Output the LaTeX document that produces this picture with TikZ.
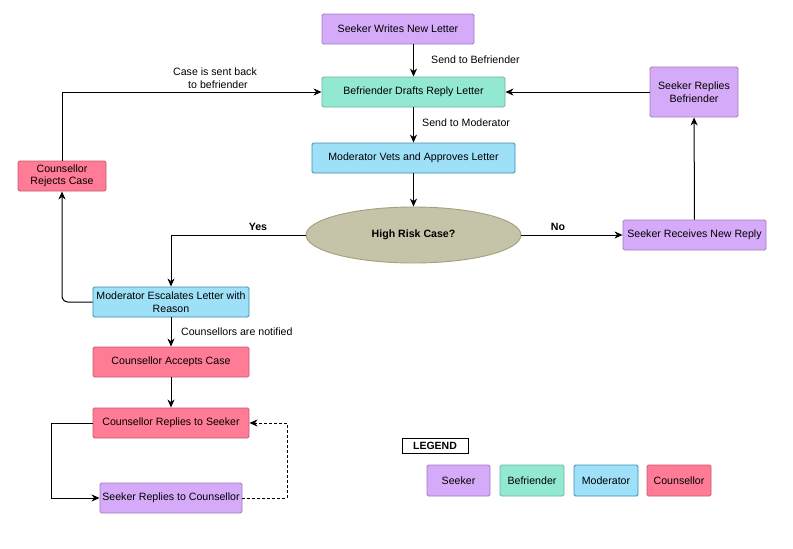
\documentclass[tikz,border=0pt]{standalone}
\usepackage{fontspec}
\setmainfont{Liberation Sans}
\usetikzlibrary{arrows.meta,shapes.geometric}

\definecolor{seekerfill}{HTML}{D5AAF9}
\definecolor{seekerline}{HTML}{A27BC0}
\definecolor{befrienderfill}{HTML}{92E8D0}
\definecolor{befrienderline}{HTML}{6AB5A2}
\definecolor{moderatorfill}{HTML}{9DE0F8}
\definecolor{moderatorline}{HTML}{3C8FAF}
\definecolor{counsellorfill}{HTML}{FF7B96}
\definecolor{counsellorline}{HTML}{C95A70}
\definecolor{riskfill}{HTML}{C5C3A8}
\definecolor{riskline}{HTML}{A3A07F}

\tikzset{
  box/.style={draw, rounded corners=1.5pt, line width=0.9pt, minimum height=30pt,
    align=center, inner sep=2pt},
  seeker/.style={box, fill=seekerfill, draw=seekerline},
  befriender/.style={box, fill=befrienderfill, draw=befrienderline},
  moderator/.style={box, fill=moderatorfill, draw=moderatorline},
  counsellor/.style={box, fill=counsellorfill, draw=counsellorline},
  flow/.style={line width=1pt, -{Stealth[length=8pt,width=7pt,inset=2.5pt]}},
  tag/.style={inner sep=1pt, align=center}
}

\begin{document}
\begin{tikzpicture}[x=1pt, y=-1pt, font=\fontsize{10.6}{12.5}\selectfont]
    \useasboundingbox[fill=white] (0,0) rectangle (793,549);
    % main column
    \node[seeker, minimum width=152pt] (writes) at (398,29) {Seeker Writes New Letter};
    \node[befriender, minimum width=183pt] (drafts) at (413.5,92) {Befriender Drafts Reply Letter};
    \node[moderator, minimum width=203pt] (vets) at (413.5,158) {Moderator Vets and Approves Letter};
    \node[ellipse, draw=riskline, fill=riskfill, line width=0.9pt, minimum width=215pt,
      minimum height=56pt, font=\fontsize{10.6}{12.5}\selectfont\bfseries] (risk) at (413.5,235) {High Risk Case?};
    % seeker side
    \node[seeker, minimum width=143pt] (receives) at (694.5,235) {Seeker Receives New Reply};
    \node[seeker, minimum width=88pt, minimum height=50pt] (repliesbef) at (694,92) {Seeker Replies\\Befriender};
    % escalation side
    \node[counsellor, minimum width=88pt] (rejects) at (62,176) {Counsellor\\Rejects Case};
    \node[moderator, minimum width=156pt] (escalates) at (171,302) {Moderator Escalates Letter with\\Reason};
    \node[counsellor, minimum width=156pt] (accepts) at (171,362) {Counsellor Accepts Case};
    \node[counsellor, minimum width=156pt] (repliesseek) at (171,423) {Counsellor Replies to Seeker};
    \node[seeker, minimum width=142pt] (repliescoun) at (171,498) {Seeker Replies to Counsellor};

    \draw[flow] (writes.south -| drafts) -- (drafts.north);
    \node[tag, anchor=west] (lbefr) at (430,60) {Send to Befriender};
    \draw[flow] (drafts) -- (vets);
    \node[tag, anchor=west] (lmod) at (421,123) {Send to Moderator};
    \draw[flow] (vets) -- (risk);
    \draw[flow] (risk) -- (receives);
    \node[tag, font=\fontsize{10.6}{12.5}\selectfont\bfseries] (lno) at (558,227) {No};
    \draw[flow] (receives) -- (repliesbef);
    \draw[flow] (repliesbef) -- (drafts);
    \draw[flow] (risk.west) -| (escalates.north);
    \node[tag, font=\fontsize{10.6}{12.5}\selectfont\bfseries] (lyes) at (258,227) {Yes};
    \draw[flow, rounded corners=6pt] (escalates.west) -| (rejects.south);
    \draw[flow] (rejects.north) |- (drafts.west);
    \node[tag] (lback) at (215,78) {Case is sent back\\\hspace*{6pt}to befriender};
    \draw[flow] (escalates) -- (accepts);
    \node[tag, anchor=west] (lnotif) at (180,332) {Counsellors are notified};
    \draw[flow] (accepts) -- (repliesseek);
    \coordinate (loopl) at (51,423);
    \coordinate (loopr) at (287,498);
    \draw[flow] (repliesseek.west) -- (loopl) |- (repliescoun.west);
    \draw[flow, densely dashed] (repliescoun.east) -- (loopr) |- (repliesseek.east);

    % legend
    \node[draw, line width=1pt, minimum width=66pt, minimum height=15pt, inner sep=1pt,
      font=\fontsize{10.5}{11}\selectfont\bfseries] (legend) at (435,445.5) {LEGEND};
    \node[seeker, minimum width=63pt, minimum height=31pt] (lgseeker) at (458.5,480.5) {Seeker};
    \node[befriender, minimum width=64pt, minimum height=31pt] (lgbefr) at (532,480.5) {Befriender};
    \node[moderator, minimum width=64pt, minimum height=31pt] (lgmod) at (606,480.5) {Moderator};
    \node[counsellor, minimum width=64pt, minimum height=31pt] (lgcoun) at (679,480.5) {Counsellor};
\end{tikzpicture}
\end{document}
